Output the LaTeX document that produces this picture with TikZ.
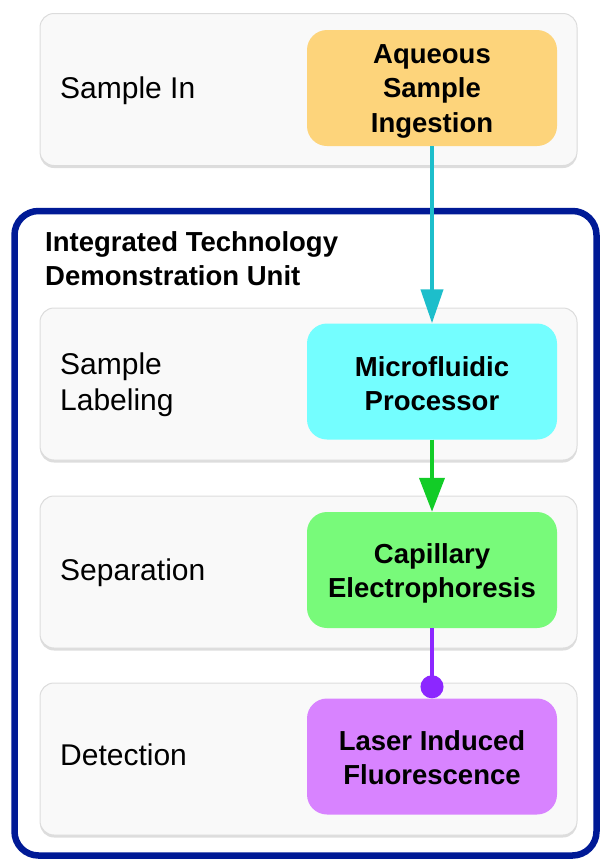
\documentclass[tikz,border=0pt]{standalone}
\usepackage{fontspec}
\setmainfont{Liberation Sans}
\usetikzlibrary{arrows.meta,shadows}

\definecolor{lanefill}{HTML}{F9F9F9}
\definecolor{laneedge}{HTML}{DCDCDC}
\definecolor{unitblue}{HTML}{001A96}
\definecolor{ingestfill}{HTML}{FDD47B}
\definecolor{microfill}{HTML}{74FEFF}
\definecolor{capfill}{HTML}{78FA7A}
\definecolor{laserfill}{HTML}{D883FF}
\definecolor{flowcyan}{HTML}{1DBECB}
\definecolor{flowgreen}{HTML}{12CC27}
\definecolor{flowpurple}{HTML}{8C27FF}

\tikzset{
  lane/.style={rectangle, rounded corners=14pt, minimum width=537pt,
    minimum height=152pt, fill=lanefill, draw=laneedge, line width=1pt,
    drop shadow={shadow xshift=0pt, shadow yshift=-2.5pt, opacity=0.22, fill=black!60}},
  procbox/.style={rectangle, rounded corners=20pt, minimum width=250pt,
    minimum height=116pt, inner sep=0pt, align=center,
    font=\fontsize{27.5}{34.5}\selectfont\bfseries},
  % places the last text line's baseline relative to the box centre
  lastbase/.style={text height=#1, text depth=5pt},
  lanelabel/.style={inner sep=0pt, align=left,
    font=\fontsize{30}{36}\selectfont},
  flow/.style={line width=4pt},
}

\begin{document}
\begin{tikzpicture}[x=1pt, y=-1pt]
\useasboundingbox (0,0) rectangle (601,860);

% integrated unit frame
\draw[unitblue, line width=6.5pt, rounded corners=24pt] (14.5,211) rectangle (596.5,855.5);
\node[anchor=west, inner sep=0pt, align=left,
      font=\fontsize{27.5}{33.5}\selectfont\bfseries] (unit) at (45,258.5)
  {Integrated Technology\\Demonstration Unit};

% stage lanes
\node[lane] (laneIn)  at (308.5,89.5) {};
\node[lane] (laneLab) at (308.5,384) {};
\node[lane] (laneSep) at (308.5,572) {};
\node[lane] (laneDet) at (308.5,759) {};

% lane titles
\node[lanelabel, anchor=base west] (tIn)  at (60,98.7) {Sample In};
\node[lanelabel, anchor=west]      (tLab) at (60,385) {Sample\\Labeling};
\node[lanelabel, anchor=base west] (tSep) at (60,580.7) {Separation};
\node[lanelabel, anchor=base west] (tDet) at (60,765.7) {Detection};

% process steps
\node[procbox, fill=ingestfill, lastbase=93.6pt] (ingest) at (432,88)    {Aqueous\\Sample\\Ingestion};
\node[procbox, fill=microfill,  lastbase=63.7pt] (micro)  at (432,381.5) {Microfluidic\\Processor};
\node[procbox, fill=capfill,    lastbase=60pt]   (cap)    at (432,570)   {Capillary\\Electrophoresis};
\node[procbox, fill=laserfill,  lastbase=61.7pt] (laser)  at (432,756.5) {Laser Induced\\Fluorescence};

% connections
\draw[flow, flowcyan, -{Triangle[length=34pt, width=22pt]}] (ingest.south) -- (micro.north);
\draw[flow, flowgreen, -{Triangle[length=34pt, width=25pt]}] (micro.south) -- (cap.north);
\draw[flow, flowpurple, -{Circle[length=23pt]}] (cap.south) -- (laser.north);
\end{tikzpicture}
\end{document}
